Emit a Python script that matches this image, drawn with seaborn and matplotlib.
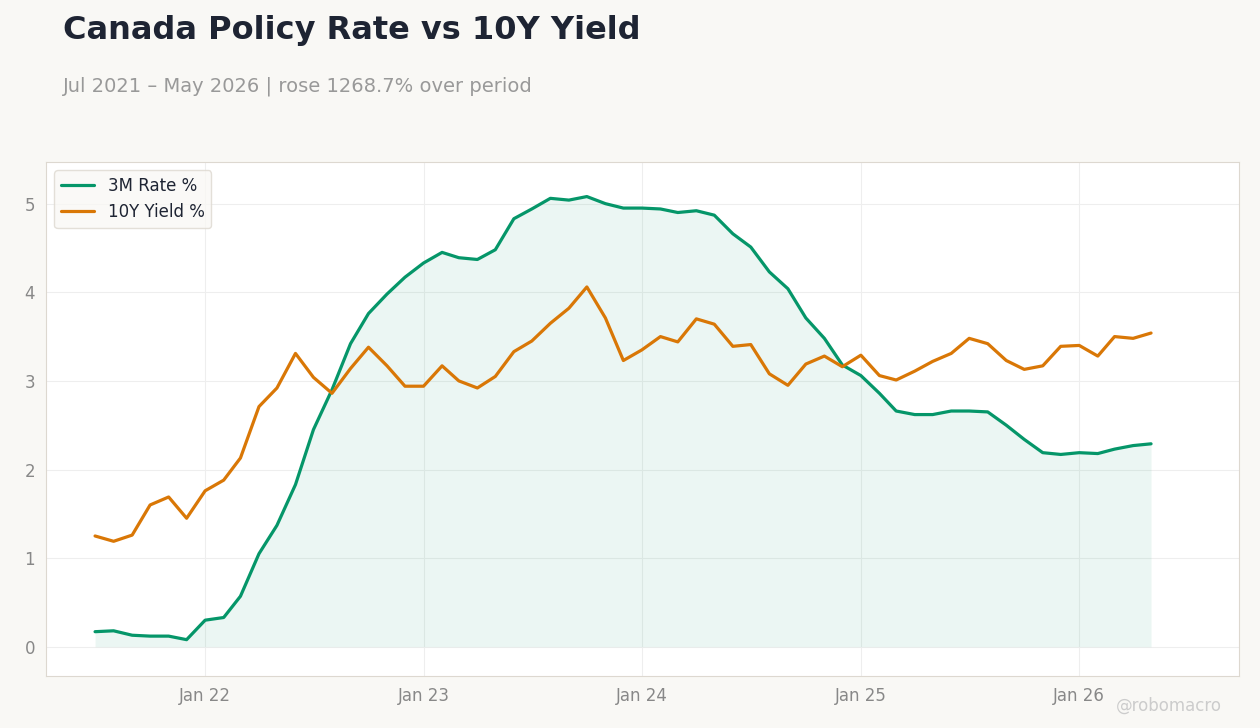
import pandas as pd
import seaborn as sns
from matplotlib import pyplot as plt
import matplotlib.dates as mdates

dates = pd.date_range("2021-07-01", periods=59, freq="MS")
rate_3m = [0.17, 0.18, 0.13, 0.12, 0.12, 0.08,
           0.30, 0.33, 0.57, 1.05, 1.37, 1.83, 2.45, 2.90, 3.42, 3.76, 3.98, 4.17,
           4.33, 4.45, 4.39, 4.37, 4.48, 4.83, 4.94, 5.06, 5.04, 5.08, 5.00, 4.95,
           4.95, 4.94, 4.90, 4.92, 4.87, 4.66, 4.51, 4.23, 4.04, 3.71, 3.48, 3.18,
           3.06, 2.86, 2.66, 2.62, 2.62, 2.66, 2.66, 2.65, 2.50, 2.34, 2.19, 2.17,
           2.19, 2.18, 2.23, 2.27, 2.29]
yield_10y = [1.25, 1.19, 1.26, 1.60, 1.69, 1.45,
             1.76, 1.88, 2.13, 2.71, 2.92, 3.31, 3.04, 2.86, 3.14, 3.38, 3.17, 2.94,
             2.94, 3.17, 3.00, 2.92, 3.05, 3.33, 3.45, 3.65, 3.82, 4.06, 3.71, 3.23,
             3.35, 3.50, 3.44, 3.70, 3.64, 3.39, 3.41, 3.08, 2.95, 3.19, 3.28, 3.16,
             3.29, 3.06, 3.01, 3.11, 3.22, 3.31, 3.48, 3.42, 3.23, 3.13, 3.17, 3.39,
             3.40, 3.28, 3.50, 3.48, 3.54]

df = pd.DataFrame({"date": dates, "3M Rate %": rate_3m, "10Y Yield %": yield_10y})
long = df.melt("date", var_name="series", value_name="value")

sns.set_style("white")
green = "#059669"
orange = "#d97706"

fig = plt.figure(figsize=(12.6, 7.28), dpi=100, facecolor="#f9f8f5")
ax = fig.add_axes([46/1260, 1-676/728, (1239-46)/1260, (676-162)/728])
ax.set_facecolor("white")

sns.lineplot(data=long, x="date", y="value", hue="series",
             palette={"3M Rate %": green, "10Y Yield %": orange}, linewidth=2.3, ax=ax)
ax.fill_between(df["date"], 0, df["3M Rate %"], color=green, alpha=0.08, linewidth=0)

ax.set_ylim(-0.33, 5.47)
ax.set_xlim(pd.Timestamp("2021-04-10"), pd.Timestamp("2026-09-25"))
ax.xaxis.set_major_locator(mdates.YearLocator(month=1))
ax.xaxis.set_major_formatter(mdates.DateFormatter("Jan %y"))
ax.set_xlabel("")
ax.set_ylabel("")
ax.grid(True, color="#eeeeee", linewidth=0.8)
ax.tick_params(colors="#888888", labelsize=12, length=0, pad=8)
for s in ax.spines.values():
    s.set_color("#ddd8d0")

leg = ax.legend(loc="upper left", fontsize=12, frameon=True, facecolor="#f9f8f5",
                edgecolor="#ddd8d0", title=None)
for t in leg.get_texts():
    t.set_color("#1e2433")

fig.text(63/1260, 1-30/728, "Canada Policy Rate vs 10Y Yield", fontsize=23, fontweight="bold",
         color="#1e2433", va="center")
fig.text(63/1260, 1-86/728, "Jul 2021 – May 2026 | rose 1268.7% over period", fontsize=14,
         color="#999999", va="center")
fig.text(1222/1260, 1-706/728, "@robomacro", fontsize=12, color="#cccccc", ha="right", va="center")

fig.savefig("out.png", dpi=100, facecolor=fig.get_facecolor())
